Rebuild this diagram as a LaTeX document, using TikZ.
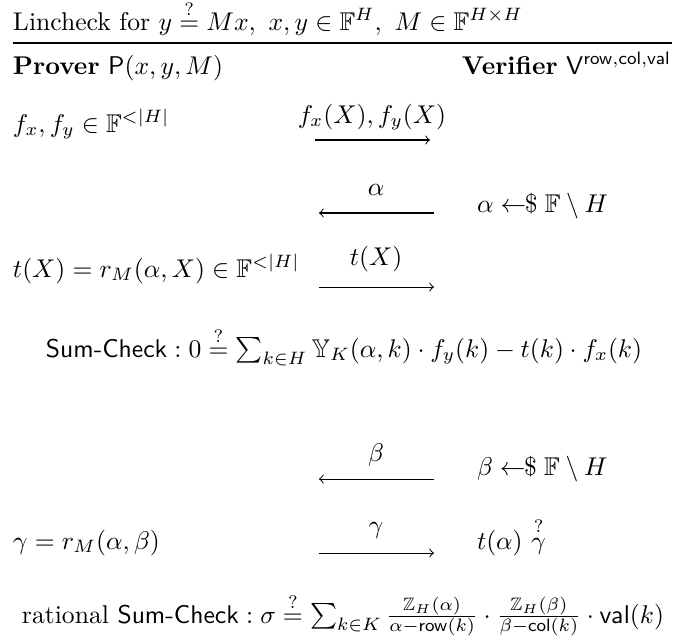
\documentclass[tikz,border=0pt]{standalone}
\usepackage{amsmath,amssymb}
\newcommand{\smpl}{\mathrel{\leftarrow\!\!\$}}
\tikzset{
  txt/.style={inner sep=0pt, outer sep=0pt, anchor=base west},
  lbl/.style={inner sep=0pt, outer sep=0pt, anchor=base},
  msg/.style={->, line width=0.4pt},
}
\begin{document}
\begin{tikzpicture}[x=0.39pt, y=-0.39pt]
\useasboundingbox (0,0) rectangle (673,641);
% title
\node[txt] (title) at (13,30) {Lincheck for $y \stackrel{?}{=} Mx,\ x,y\in\mathbb{F}^H,\ M\in\mathbb{F}^{H\times H}$};
\coordinate (rl) at (13,43);
\coordinate (rr) at (672,43);
\draw[line width=0.6pt] (rl) -- (rr);
\node[txt] (prover) at (13,74) {\textbf{Prover} $\mathsf{P}(x,y,M)$};
\node[txt, anchor=base east] (verifier) at (671,74) {\textbf{Verifier} $\mathsf{V}^{\mathsf{row},\mathsf{col},\mathsf{val}}$};
% round 1
\node[txt] (p1) at (13,132) {$f_x, f_y \in \mathbb{F}^{<|H|}$};
\coordinate (a1s) at (315,140);
\coordinate (a1e) at (430,140);
\draw[msg] (a1s) -- (a1e);
\node[lbl] (l1) at (372,123) {$f_x(X), f_y(X)$};
% round 2
\coordinate (a2s) at (434,213);
\coordinate (a2e) at (319,213);
\draw[msg] (a2s) -- (a2e);
\node[lbl] (l2) at (376,195) {$\alpha$};
\node[txt] (v2) at (477,212) {$\alpha \smpl \mathbb{F}\setminus H$};
% round 3
\node[txt] (p3) at (13,277) {$t(X) = r_M(\alpha,X)\in\mathbb{F}^{<|H|}$};
\coordinate (a3s) at (319,287);
\coordinate (a3e) at (434,287);
\draw[msg] (a3s) -- (a3e);
\node[lbl] (l3) at (376,265) {$t(X)$};
% sumcheck
\node[lbl] (sc1) at (344,357) {$\mathsf{Sum\text{-}Check}: 0 \stackrel{?}{=} \sum_{k\in H}\mathbb{Y}_K(\alpha,k)\cdot f_y(k) - t(k)\cdot f_x(k)$};
% round 4
\coordinate (a4s) at (434,479);
\coordinate (a4e) at (319,479);
\draw[msg] (a4s) -- (a4e);
\node[lbl] (l4) at (376,461) {$\beta$};
\node[txt] (v4) at (477,475) {$\beta \smpl \mathbb{F}\setminus H$};
% round 5
\node[txt] (p5) at (13,549) {$\gamma = r_M(\alpha,\beta)$};
\coordinate (a5s) at (319,553);
\coordinate (a5e) at (434,553);
\draw[msg] (a5s) -- (a5e);
\node[lbl] (l5) at (376,533) {$\gamma$};
\node[txt] (v5) at (477,549) {$t(\alpha)\ \overset{?}{\gamma}$};
% rational sumcheck
\node[lbl] (sc2) at (343,623) {rational $\mathsf{Sum\text{-}Check}: \sigma \stackrel{?}{=} \sum_{k\in K}\frac{\mathbb{Z}_H(\alpha)}{\alpha-\mathsf{row}(k)}\cdot\frac{\mathbb{Z}_H(\beta)}{\beta-\mathsf{col}(k)}\cdot\mathsf{val}(k)$};
\end{tikzpicture}
\end{document}
